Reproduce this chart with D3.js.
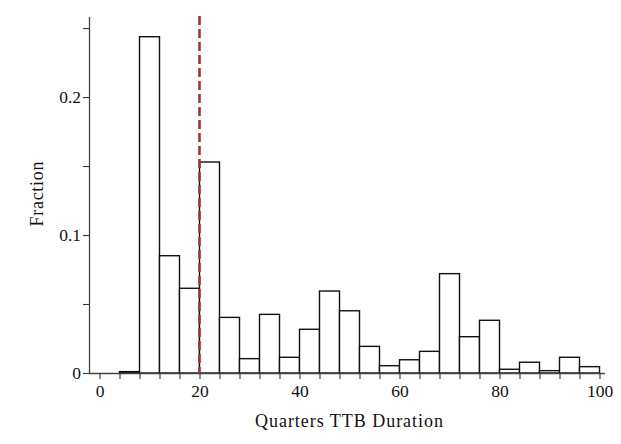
<!DOCTYPE html>
<html>
<head>
<meta charset="utf-8">
<script src="https://cdn.jsdelivr.net/npm/d3@7"></script>
<style>
  html, body { margin: 0; padding: 0; background: #fff; }
  svg { display: block; }
  text { font-family: "Liberation Serif", "DejaVu Serif", serif; fill: #111; }
</style>
</head>
<body>
<svg id="chart" width="621" height="444"></svg>
<script>
// Histogram of TTB duration (quarters), bins of width 4
const binStarts = [4, 8, 12, 16, 20, 24, 28, 32, 36, 40, 44, 48, 52, 56, 60, 64, 68, 72, 76, 80, 84, 88, 92, 96];
const fractions = [0.001, 0.2437, 0.085, 0.0614, 0.1529, 0.0403, 0.0104, 0.0425, 0.0114, 0.0317, 0.0594, 0.0451,
                   0.0193, 0.0053, 0.0096, 0.0157, 0.072, 0.0263, 0.0382, 0.0027, 0.0078, 0.0017, 0.0114, 0.0046];
const binWidth = 4;
const cutoff = 20;
const xTickLabels = [0, 20, 40, 60, 80, 100];
const yTickLabels = [0, 0.1, 0.2];

const svg = d3.select("#chart");

const x = d3.scaleLinear().domain([0, 100]).range([99.5, 599.5]);
const y = d3.scaleLinear().domain([0, 0.258]).range([373, 17]);

// bars
svg.append("g")
  .selectAll("rect")
  .data(binStarts.map((s, i) => ({ s, v: fractions[i] })))
  .join("rect")
  .attr("x", d => x(d.s))
  .attr("width", d => x(d.s + binWidth) - x(d.s))
  .attr("y", d => y(d.v))
  .attr("height", d => y(0) - y(d.v))
  .attr("fill", "#fff")
  .attr("stroke", "#111")
  .attr("stroke-width", 1.4);

// x axis: ticks at every bin edge, labels every 20
const xAxis = d3.axisBottom(x)
  .tickValues(d3.range(0, 101, 4))
  .tickSize(6)
  .tickFormat(d => xTickLabels.includes(d) ? d : "");
const gx = svg.append("g").attr("transform", `translate(0,${y(0)})`).call(xAxis);
gx.select(".domain").attr("d", `M${89},0.5H${605}`).attr("stroke", "#444").attr("stroke-width", 1.3);
gx.selectAll(".tick line").attr("stroke", "#333").attr("stroke-width", 1.1);
gx.selectAll(".tick text").attr("font-size", 17.5).attr("y", 11.6).attr("dy", "0.71em")
  .style("font-family", '"Liberation Serif", serif').attr("fill", "#111");

// y axis: ticks every 0.05, labels every 0.1
const yAxis = d3.axisLeft(y)
  .tickValues([0, 0.05, 0.1, 0.15, 0.2, 0.25])
  .tickSize(6)
  .tickFormat(d => yTickLabels.some(v => Math.abs(v - d) < 1e-9) ? d3.format("")(d) : "");
const gy = svg.append("g").attr("transform", `translate(89,0)`).call(yAxis);
gy.select(".domain").attr("d", `M0.5,${y(0)}V${17}`).attr("stroke", "#444").attr("stroke-width", 1.3);
gy.selectAll(".tick line").attr("stroke", "#333").attr("stroke-width", 1.1);
gy.selectAll(".tick text").attr("font-size", 17.5).attr("x", -8)
  .style("font-family", '"Liberation Serif", serif').attr("fill", "#111");

// cutoff marker
svg.append("line")
  .attr("x1", x(cutoff)).attr("x2", x(cutoff))
  .attr("y1", y.range()[1] - 1).attr("y2", y(0))
  .attr("stroke", "#a3323d")
  .attr("stroke-width", 2.6)
  .attr("stroke-dasharray", "9,4");

// axis titles
svg.append("text")
  .attr("x", 349).attr("y", 427)
  .attr("text-anchor", "middle")
  .attr("font-size", 18)
  .attr("textLength", 188)
  .attr("lengthAdjust", "spacing")
  .text("Quarters TTB Duration");

svg.append("text")
  .attr("transform", `translate(43,194) rotate(-90)`)
  .attr("text-anchor", "middle")
  .attr("font-size", 18)
  .attr("textLength", 65)
  .attr("lengthAdjust", "spacing")
  .text("Fraction");
</script>
</body>
</html>
